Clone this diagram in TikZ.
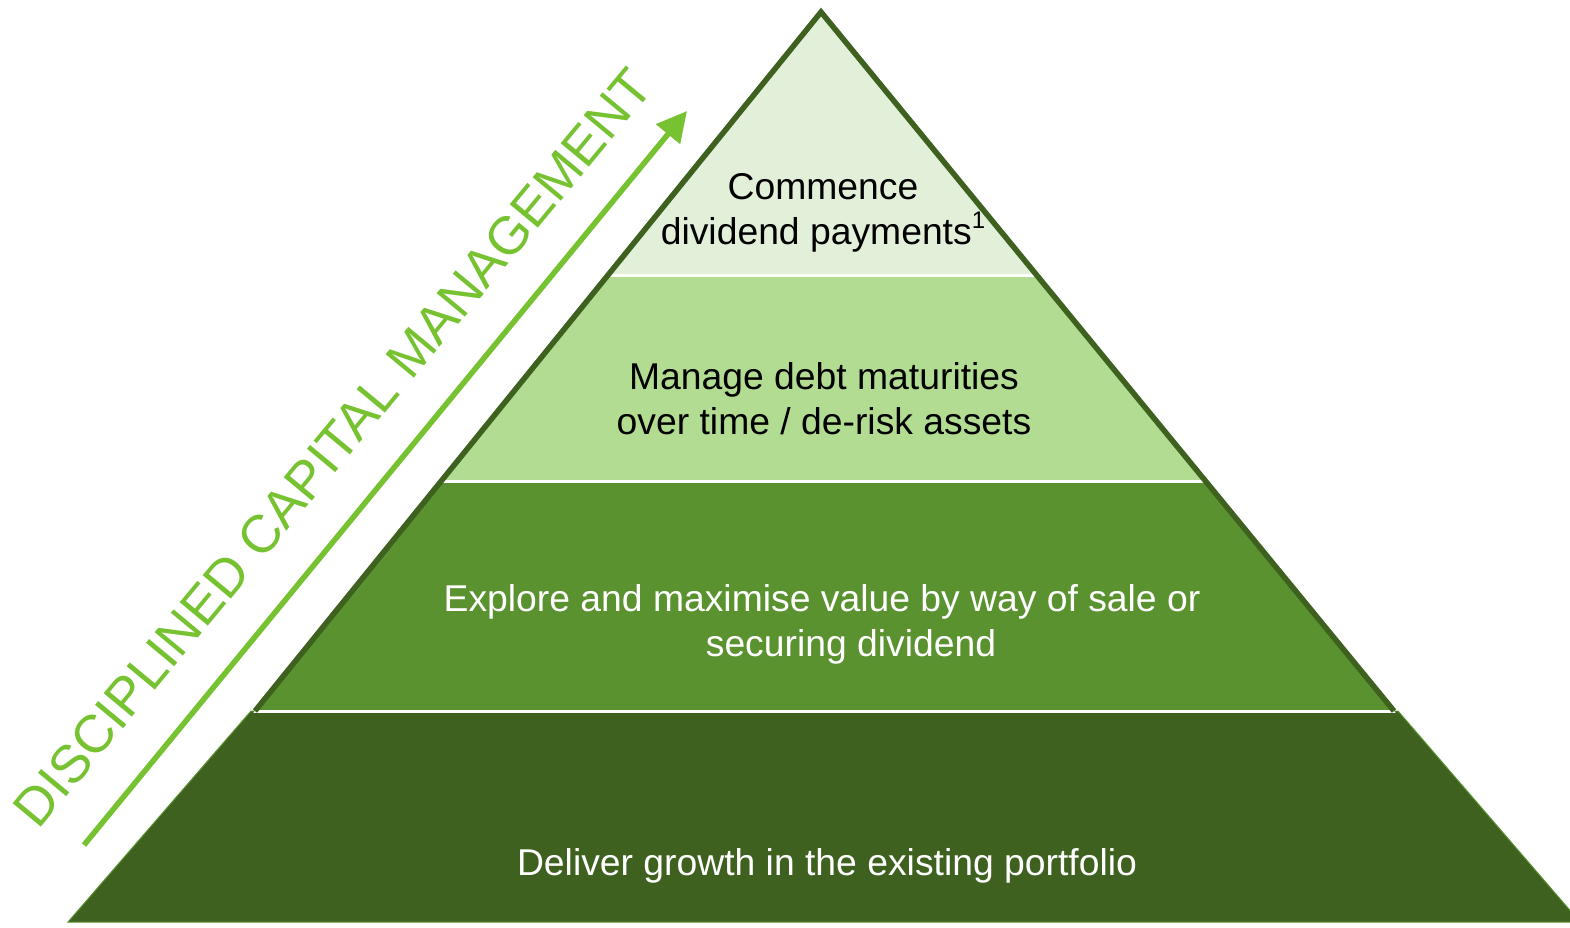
\documentclass[tikz,border=0pt]{standalone}
\usepackage{fontspec}
\setmainfont{Liberation Sans}
\usepackage{tikz}
\usepackage{xcolor}
\usetikzlibrary{arrows.meta}
\definecolor{layerA}{HTML}{E2F0D9}
\definecolor{layerB}{HTML}{B2DC92}
\definecolor{layerC}{HTML}{5B9230}
\definecolor{layerD}{HTML}{3E6120}
\definecolor{capgreen}{HTML}{76C230}
\tikzstyle{arr}=[-{Triangle[length=30pt,width=30pt]},line width=5.5pt,draw=capgreen,fill=capgreen]
\newcommand{\supone}{\raisebox{0.42em}{\fontsize{24}{24}\selectfont 1}}

\begin{document}
\begin{tikzpicture}[x=1pt,y=-1pt]
  \tikzstyle edgeS=[line width=5.5pt,draw=layerD,line join=miter];
  \tikzstyle sepS=[line width=3pt,draw=white];
  \tikzstyle levelT=[align=center,font=\fontsize{37.3}{44.8}\selectfont];
  \useasboundingbox (0,0) rectangle (1570,927);
  \coordinate (apex) at (821,12);
  \coordinate (baseL) at (84,922);
  \coordinate (baseR) at (1567,922);
  \coordinate (edgeL) at (255,711);
  \coordinate (edgeR) at (1394,711);
  \begin{scope}
    \clip (apex) -- (baseL) -- (baseR) -- cycle;
    \foreach \ytop/\ybot/\lcol in {0/275/layerA, 275/481/layerB, 481/711/layerC}
    {
      \fill[color=\lcol] (0,\ytop) rectangle (1570,\ybot);
    }
  \end{scope}
  \filldraw[fill=layerD,draw=layerC,line width=1pt]
    (251,711) -- (1398,711) -- (1580,922) -- (68,922) -- cycle;
  \begin{scope}
    \clip (apex) -- (baseL) -- (baseR) -- cycle;
    \foreach \y in {275,481,711}
      \draw[sepS] (0,\y) -- (1570,\y);
  \end{scope}
  \draw[edgeS] (edgeL) -- (apex) -- (edgeR);

  \node[levelT] (commence) at (823,213) {Commence\\dividend payments\supone};
  \node[levelT] (debt) at (824,398.5) {Manage debt maturities\\over time / de-risk assets};
  \node[levelT,text=white] (explore) at (822,624)
    {Explore and maximise value by way of sale or\\\hspace*{58pt}securing dividend};
  \node[levelT,text=white] (deliver) at (827,866) {Deliver growth in the existing portfolio};

  \node[font=\fontsize{53.3}{62}\selectfont,text=capgreen,rotate=50.3,anchor=base]
    (capital) at (347,459) {DISCIPLINED CAPITAL MANAGEMENT};
  \coordinate (arrowTail) at (84,845);
  \coordinate (arrowTip) at (687,111);
  \draw[arr] (arrowTail) -- (arrowTip);
\end{tikzpicture}
\end{document}
